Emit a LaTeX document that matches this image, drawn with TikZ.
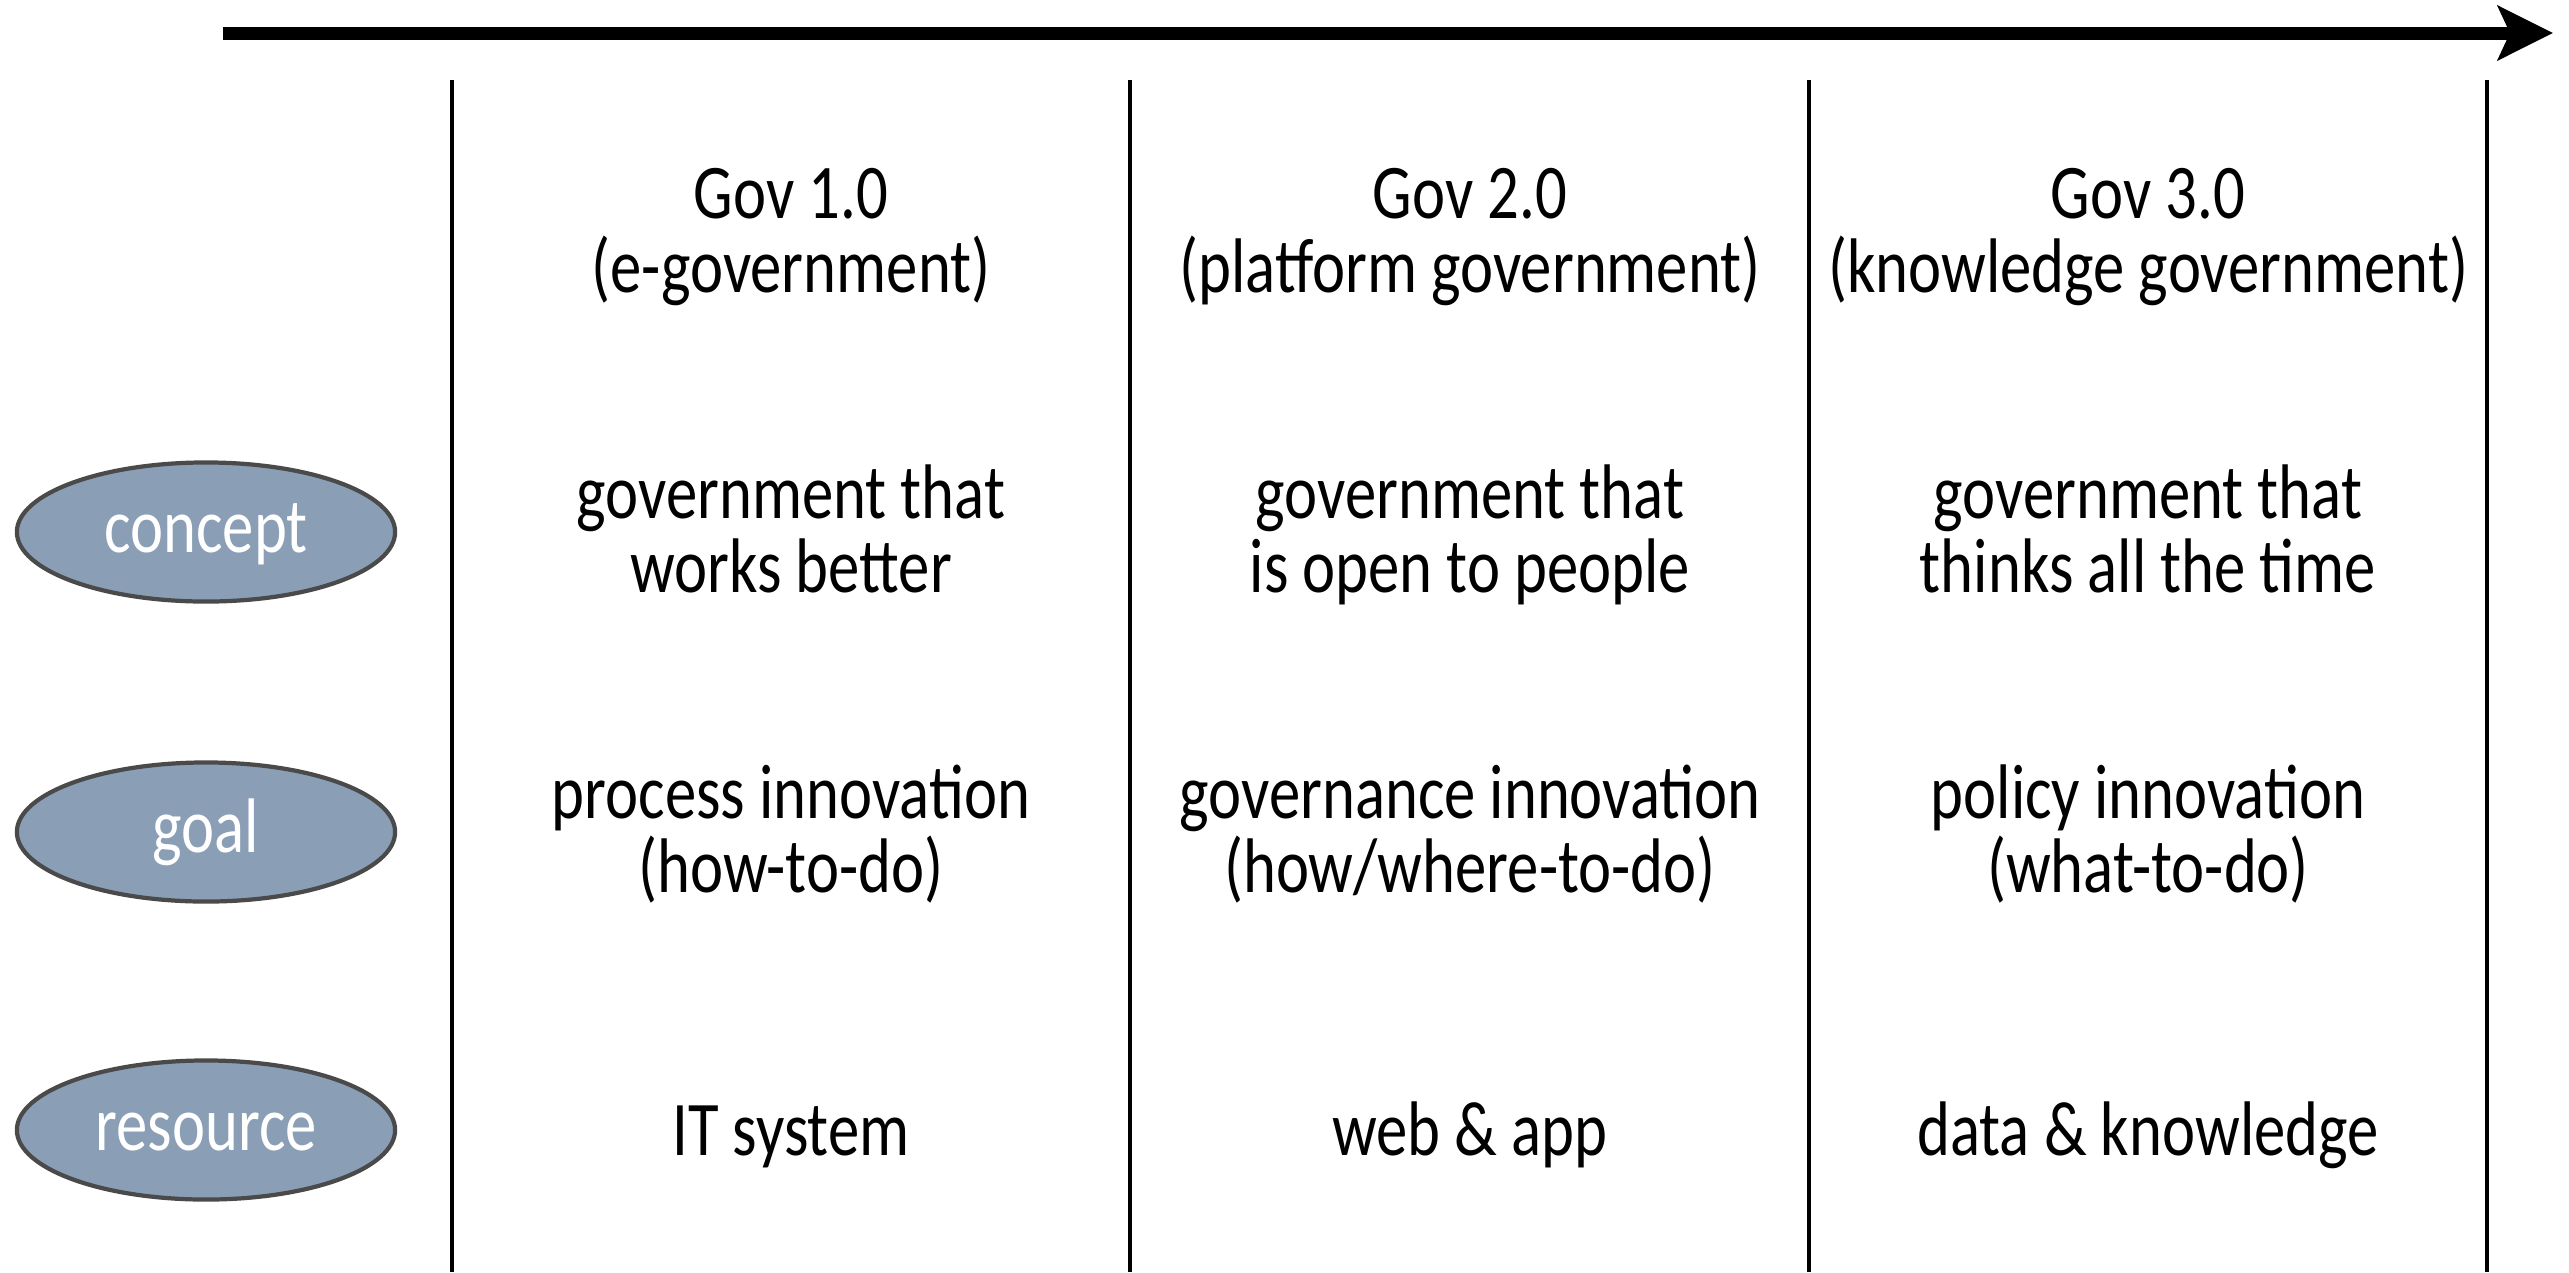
\documentclass[tikz,border=0pt]{standalone}
\usepackage{fontspec}
\setmainfont{Carlito}[FakeStretch=0.81]
\usetikzlibrary{shapes.geometric,arrows.meta}
\definecolor{ellfill}{HTML}{8A9EB5}
\definecolor{ellline}{HTML}{4A4A4A}
\tikzset{
  cell/.style={anchor=base, inner sep=0pt, font=\fontsize{22}{21.05}\selectfont},
  tag/.style={ellipse, draw=ellline, line width=1.2pt, fill=ellfill, minimum width=3.78cm, minimum height=1.39cm, inner sep=0pt, text=white, text height=0.4cm, text depth=0cm, font=\fontsize{22}{24}\selectfont},
  rule/.style={line width=1.4pt},
  timeline/.style={line width=3.7pt, -{Stealth[length=0.55cm, width=0.54cm, inset=0.12cm]}}
}
\newcommand{\twoline}[2]{\begin{tabular}[t]{@{}c@{}}\smash{#1}\\\smash{#2}\end{tabular}}
\begin{document}
\begin{tikzpicture}[x=0.01cm, y=-0.01cm]
\useasboundingbox (0,0) rectangle (2569,1272);
% timeline arrow
\coordinate (t0) at (223,33);
\coordinate (t1) at (2553,33);
\draw[timeline] (t0) -- (t1);
% column rules
\foreach \n/\x in {a/452, b/1130, c/1809, d/2487} {
  \coordinate (\n top) at (\x,80);
  \coordinate (\n bot) at (\x,1272);
  \draw[rule] (\n top) -- (\n bot);
}
% headers
\node[cell] (h1) at (791,218) {\twoline{Gov 1.0}{(e-government)}};
\node[cell] (h2) at (1470,218) {\twoline{Gov 2.0}{(platform government)}};
\node[cell] (h3) at (2148,218) {\twoline{Gov 3.0}{(knowledge government)}};
% concept row
\node[cell] (c1) at (791,518) {\twoline{government that}{works better}};
\node[cell] (c2) at (1470,518) {\twoline{government that}{is open to people}};
\node[cell] (c3) at (2148,518) {\twoline{government that}{thinks all the time}};
% goal row
\node[cell] (g1) at (791,818) {\twoline{process innovation}{(how-to-do)}};
\node[cell] (g2) at (1470,818) {\twoline{governance innovation}{(how/where-to-do)}};
\node[cell] (g3) at (2148,818) {\twoline{policy innovation}{(what-to-do)}};
% resource row
\node[cell] (r1) at (791,1155) {IT system};
\node[cell] (r2) at (1470,1155) {web \& app};
\node[cell] (r3) at (2148,1155) {data \& knowledge};
% row labels
\node[tag] (concept) at (206,532) {\smash{concept}};
\node[tag] (goal) at (206,832) {\smash{goal}};
\node[tag] (resource) at (206,1130) {\smash{resource}};
\end{tikzpicture}
\end{document}
